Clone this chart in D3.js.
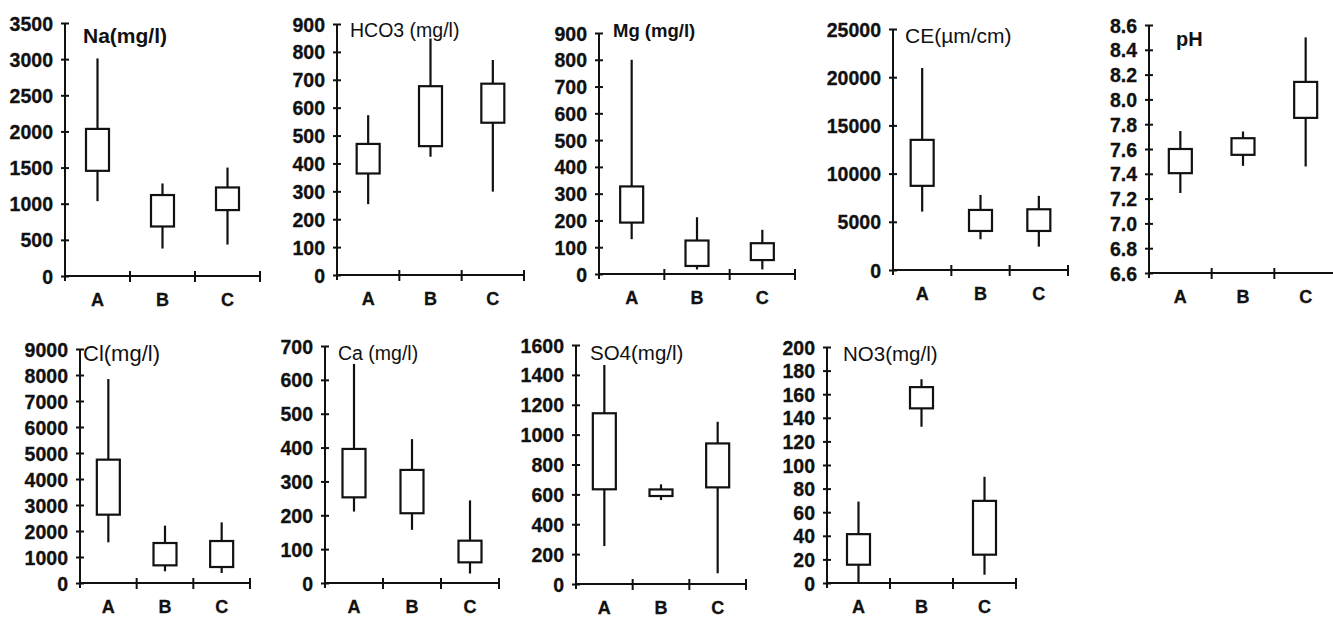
<!DOCTYPE html>
<html>
<head>
<meta charset="utf-8">
<script src="https://cdn.jsdelivr.net/npm/d3@7"></script>
<style>
    body { margin: 0; background: #fff; }
    svg { display: block; }
    .axis path, .axis line { stroke: #111; stroke-width: 2px; }
</style>
</head>
<body>
<svg id="chart" width="1333" height="618"></svg>
<script>
// categories + [min, box bottom, box top, max] for each category
const categories = ["A", "B", "C"];
const naValues   = [[1035, 1455, 2035, 3010], [380, 685, 1120, 1280], [435, 912, 1225, 1500]];
const hco3Values = [[254, 364, 470, 573], [424, 462, 677, 848], [299, 546, 686, 771]];
const mgValues   = [[130, 192, 327, 800], [17, 30, 125, 212], [17, 52, 115, 165]];
const ceValues   = [[6060, 8730, 13500, 20950], [3190, 4050, 6230, 7790], [2420, 4050, 6300, 7690]];
const phValues   = [[7.245, 7.405, 7.60, 7.745], [7.464, 7.553, 7.687, 7.741], [7.459, 7.851, 8.141, 8.50]];
const clValues   = [[1564, 2628, 4744, 7846], [449, 679, 1538, 2205], [385, 615, 1615, 2333]];
const caValues   = [[211, 253, 396, 647], [157, 206, 334, 425], [28, 61, 125, 244]];
const so4Values  = [[254, 634, 1143, 1466], [562, 589, 633, 667], [72, 647, 941, 1086]];
const no3Values  = [[0.5, 15.5, 41.4, 69], [132.4, 148, 166, 172.7], [7, 24, 69.6, 90]];

// y axis ranges: [min, max, step]
const naTicks   = [0, 3500, 500];
const hco3Ticks = [0, 900, 100];
const mgTicks   = [0, 900, 100];
const ceTicks   = [0, 25000, 5000];
const phTicks   = [6.6, 8.6, 0.2];
const clTicks   = [0, 9000, 1000];
const caTicks   = [0, 700, 100];
const so4Ticks  = [0, 1600, 200];
const no3Ticks  = [0, 200, 20];

const FONT = "'Liberation Sans', Arial, sans-serif";
let svg = d3.select("#chart");

// position of every small chart on the page
let panels = [
    {title: "Na(mg/l)",    bold: true,  size: 21,   values: naValues,   ticks: naTicks,   x0: 65,   x1: 260,  y0: 276, y1: 23,  tx: 83,   ty: 43},
    {title: "HCO3 (mg/l)", bold: false, size: 19.5, values: hco3Values, ticks: hco3Ticks, x0: 337,  x1: 524,  y0: 275, y1: 24,  tx: 350,  ty: 37},
    {title: "Mg (mg/l)",   bold: true,  size: 18.5, values: mgValues,   ticks: mgTicks,   x0: 599,  x1: 795,  y0: 274, y1: 33,  tx: 613,  ty: 37},
    {title: "CE(µm/cm)",   bold: false, size: 21,   values: ceValues,   ticks: ceTicks,   x0: 893,  x1: 1068, y0: 270, y1: 29,  tx: 905,  ty: 43},
    {title: "pH",          bold: true,  size: 20,   values: phValues,   ticks: phTicks,   x0: 1149, x1: 1337, y0: 273, y1: 25,  tx: 1176, ty: 46, fmt: ".1f"},
    {title: "Cl(mg/l)",    bold: false, size: 22,   values: clValues,   ticks: clTicks,   x0: 80,   x1: 250,  y0: 583, y1: 349, tx: 83,   ty: 361},
    {title: "Ca (mg/l)",   bold: false, size: 19.5, values: caValues,   ticks: caTicks,   x0: 325,  x1: 499,  y0: 583, y1: 346, tx: 338,  ty: 360},
    {title: "SO4(mg/l)",   bold: false, size: 20.5, values: so4Values,  ticks: so4Ticks,  x0: 576,  x1: 746,  y0: 584, y1: 345, tx: 590,  ty: 360},
    {title: "NO3(mg/l)",   bold: false, size: 20.5, values: no3Values,  ticks: no3Ticks,  x0: 827,  x1: 1016, y0: 583, y1: 347, tx: 843,  ty: 361}
];

function drawPanel(p) {
    let g = svg.append("g");
    let tickVals = d3.range(0, Math.round((p.ticks[1] - p.ticks[0]) / p.ticks[2]) + 1)
        .map(i => p.ticks[0] + i * p.ticks[2]);

    let scaleX = d3.scaleBand()
        .domain(categories)
        .range([p.x0, p.x1]);
    let scaleY = d3.scaleLinear()
        .domain([p.ticks[0], p.ticks[1]])
        .range([p.y0, p.y1]);

    // ось OY, засечки пересекают ось
    let axisY = d3.axisLeft(scaleY)
        .tickValues(tickVals)
        .tickSize(4)
        .tickPadding(8)
        .tickFormat(d3.format(p.fmt || "d"));
    let gy = g.append("g")
        .attr("class", "axis")
        .attr("transform", `translate(${p.x0}, 0)`)
        .call(axisY)
        .attr("font-size", null)
        .attr("font-family", null);
    gy.select(".domain").attr("d", `M0,${p.y0 + 5}V${p.y1}`);
    gy.selectAll(".tick line").attr("x1", 4);
    gy.selectAll(".tick text")
        .attr("dy", "0.36em")
        .style("font-family", FONT)
        .style("font-size", "19.5px")
        .style("font-weight", "bold")
        .style("fill", "#111")
        .style("stroke", "#111")
        .style("stroke-width", 0.3);

    // ось OX: подписи категорий
    let axisX = d3.axisBottom(scaleX).tickSize(0).tickPadding(17);
    let gx = g.append("g")
        .attr("class", "axis")
        .attr("transform", `translate(0, ${p.y0})`)
        .call(axisX)
        .attr("font-size", null)
        .attr("font-family", null);
    gx.select(".domain").attr("d", `M${p.x0},0H${p.x1}`);
    gx.selectAll(".tick text")
        .style("font-family", FONT)
        .style("font-size", "18px")
        .style("font-weight", "bold")
        .style("fill", "#111")
        .style("stroke", "#111")
        .style("stroke-width", 0.3);

    // засечки на границах категорий
    let bounds = categories.map(c => scaleX(c) + scaleX.step());
    gx.selectAll(".bound")
        .data(bounds)
        .enter()
        .append("line")
        .attr("x1", d => d)
        .attr("x2", d => d)
        .attr("y1", -5)
        .attr("y2", 6);

    // усы и ящики
    let boxW = 23;
    let items = categories.map((c, i) => ({cat: c, v: p.values[i]}));
    g.selectAll(".whisker")
        .data(items)
        .enter()
        .append("line")
        .attr("x1", d => scaleX(d.cat) + scaleX.bandwidth() / 2)
        .attr("x2", d => scaleX(d.cat) + scaleX.bandwidth() / 2)
        .attr("y1", d => scaleY(d.v[0]))
        .attr("y2", d => scaleY(d.v[3]))
        .style("stroke", "#111")
        .style("stroke-width", 2.2);
    g.selectAll(".box")
        .data(items)
        .enter()
        .append("rect")
        .attr("x", d => scaleX(d.cat) + scaleX.bandwidth() / 2 - boxW / 2)
        .attr("width", boxW)
        .attr("y", d => scaleY(d.v[2]))
        .attr("height", d => scaleY(d.v[1]) - scaleY(d.v[2]))
        .style("fill", "#fff")
        .style("stroke", "#111")
        .style("stroke-width", 2.2);

    g.append("text")
        .attr("x", p.tx)
        .attr("y", p.ty)
        .attr("font-family", FONT)
        .attr("font-size", p.size)
        .attr("font-weight", p.bold ? "bold" : "normal")
        .attr("fill", "#111")
        .text(p.title);
}

panels.forEach(drawPanel);
</script>
</body>
</html>
